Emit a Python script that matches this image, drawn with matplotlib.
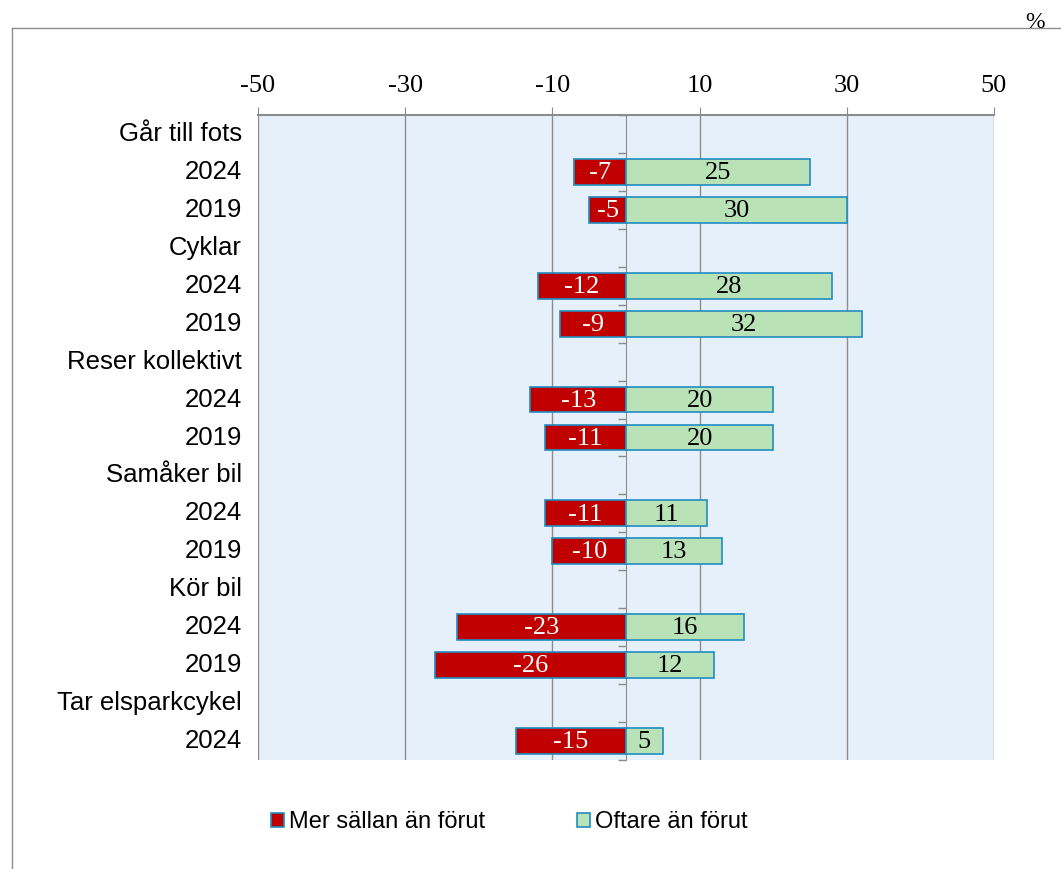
import matplotlib.pyplot as plt
from matplotlib.patches import Patch
from matplotlib.lines import Line2D
import numpy as np

labels = ['Går till fots', '2024', '2019', 'Cyklar', '2024', '2019',
          'Reser kollektivt', '2024', '2019', 'Samåker bil', '2024', '2019',
          'Kör bil', '2024', '2019', 'Tar elsparkcykel', '2024']
mer_sallan = [np.nan, -7, -5, np.nan, -12, -9, np.nan, -13, -11, np.nan, -11, -10,
              np.nan, -23, -26, np.nan, -15]
oftare = [np.nan, 25, 30, np.nan, 28, 32, np.nan, 20, 20, np.nan, 11, 13,
          np.nan, 16, 12, np.nan, 5]
xticks = [-50, -30, -10, 10, 30, 50]

red = '#C00000'
green = '#B9E3B6'
edge = '#1F8DC2'
grid = '#8C8C8C'
serif = 'Liberation Serif'
sans = 'Liberation Sans'

fig = plt.figure(figsize=(10.61, 8.69), dpi=100)
ax = fig.add_axes([258 / 1061, 1 - 760 / 869, (994 - 258) / 1061, (760 - 115) / 869])
ax.set_facecolor('#E6F0FA')

y = np.arange(len(labels))
ax.barh(y, mer_sallan, height=0.68, color=red, edgecolor=edge, linewidth=1.2, zorder=3)
ax.barh(y, oftare, height=0.68, color=green, edgecolor=edge, linewidth=1.2, zorder=3)

for yi, v in zip(y, mer_sallan):
    if not np.isnan(v):
        ax.text(v / 2, yi + 0.03, f'{v:g}', ha='center', va='center', color='white',
                fontsize=19, family=serif, zorder=4)
for yi, v in zip(y, oftare):
    if not np.isnan(v):
        ax.text(v / 2, yi + 0.03, f'{v:g}', ha='center', va='center', color='black',
                fontsize=19, family=serif, zorder=4)

ax.set_xlim(-50, 50)
ax.set_ylim(len(labels) - 0.5, -0.5)
ax.xaxis.tick_top()
ax.set_xticks(xticks)
ax.set_xticklabels([str(t) for t in xticks], family=serif, fontsize=19)
ax.tick_params(axis='x', length=6, color=grid, pad=7)
for t in xticks:
    ax.axvline(t, color=grid, linewidth=1, zorder=1)

# zero line with boundary ticks
ax.spines['left'].set_position(('data', 0))
ax.spines['left'].set_color(grid)
ax.spines['left'].set_zorder(2)
ax.set_yticks(np.arange(-0.5, len(labels)), minor=True)
ax.set_yticks([])
ax.tick_params(axis='y', which='minor', length=6, width=1, color=grid, direction='out')
ax.spines['top'].set_color(grid)
ax.spines['top'].set_linewidth(1.5)
ax.spines['right'].set_visible(False)
ax.spines['bottom'].set_visible(False)

for yi, lab in zip(y, labels):
    ax.text(-0.022, yi, lab, transform=ax.get_yaxis_transform(), ha='right',
            va='center', fontsize=18.5, family=sans)

# outer frame lines
fig.add_artist(Line2D([12 / 1061, 1], [1 - 28 / 869] * 2, color=grid, linewidth=1))
fig.add_artist(Line2D([12 / 1061] * 2, [0, 1 - 28 / 869], color=grid, linewidth=1))
fig.text(1035 / 1061, 1 - 23 / 869, '%', ha='center', va='center', fontsize=17, family=serif)

handles = [Patch(facecolor=red, edgecolor=edge, linewidth=1.2),
           Patch(facecolor=green, edgecolor=edge, linewidth=1.2)]
fig.legend(handles, ['Mer sällan än förut', 'Oftare än förut'], loc='center',
           bbox_to_anchor=(509 / 1061, 1 - 822 / 869), ncol=2, frameon=False,
           prop={'family': sans, 'size': 17}, handlelength=0.55, handleheight=0.55,
           handletextpad=0.2, columnspacing=3.9, borderpad=0, borderaxespad=0)

fig.savefig('out.png', dpi=100)
